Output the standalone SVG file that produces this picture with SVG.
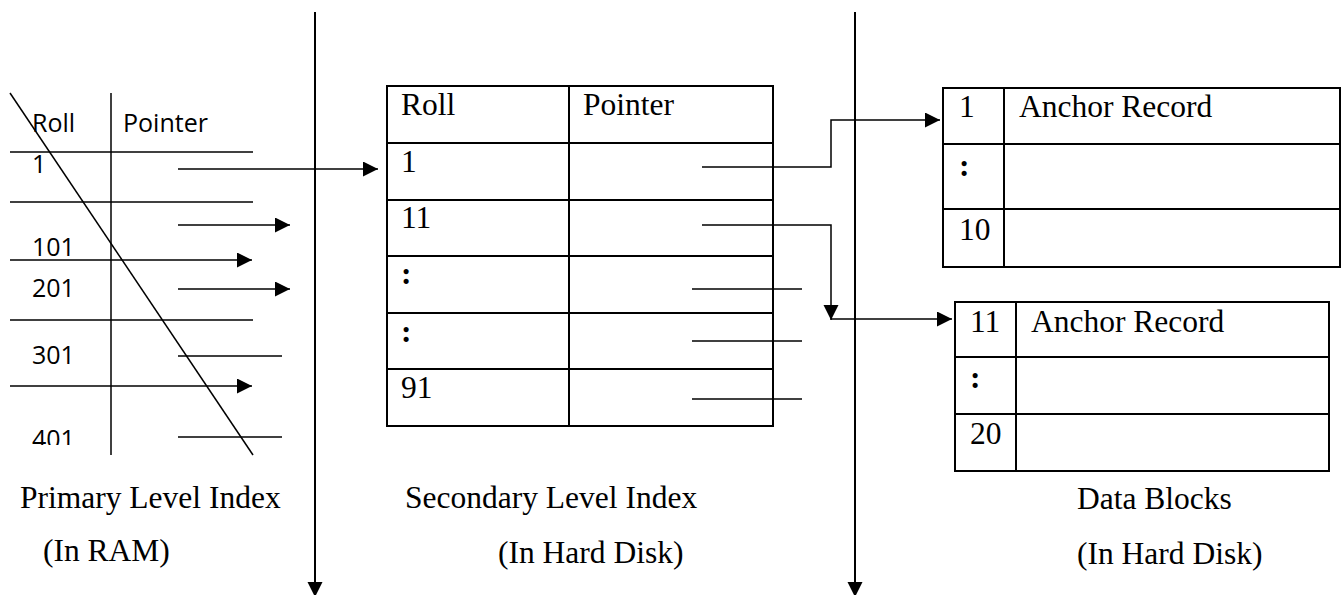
<svg xmlns="http://www.w3.org/2000/svg" width="1342" height="595" viewBox="0 0 1342 595">
<style>
.bg{fill:#fff}
.tb{fill:none;stroke:#000;stroke-width:2}
.ln{fill:none;stroke:#000;stroke-width:1.5}
.thin{fill:none;stroke:#000;stroke-width:1.4}
.ax{fill:none;stroke:#000;stroke-width:2}
.ser{font-family:"Liberation Serif","Times New Roman",serif;font-size:31.5px;fill:#000}
.sans{font-family:"Open Sans","Liberation Sans",sans-serif;font-size:25px;fill:#000}
.arr{marker-end:url(#ah)}
</style>
<defs>
<marker id="ah" markerUnits="userSpaceOnUse" markerWidth="16" markerHeight="16" refX="15" refY="7.5" orient="auto">
<path d="M0,0 L15,7.5 L0,15 z" fill="#000"/>
</marker>
<clipPath id="clip401"><rect x="0" y="0" width="200" height="445"/></clipPath>
</defs>
<rect class="bg" x="0" y="0" width="1342" height="595"/>

<g id="primary-index">
<line class="ln" x1="10" y1="93" x2="253" y2="455"/>
<line class="ln" x1="111" y1="93" x2="111" y2="455"/>
<line class="ln" x1="10" y1="152" x2="253" y2="152"/>
<line class="ln" x1="10" y1="202" x2="253" y2="202"/>
<line class="ln" x1="10" y1="320" x2="253" y2="320"/>
<text class="sans" x="32" y="132">Roll</text>
<text class="sans" x="123" y="132">Pointer</text>
<text class="sans" x="32" y="173">1</text>
<text class="sans" x="32" y="256">101</text>
<text class="sans" x="32" y="297">201</text>
<text class="sans" x="32" y="364">301</text>
<text class="sans" x="32" y="448" clip-path="url(#clip401)">401</text>
</g>

<g id="secondary-index">
<rect class="tb" x="387" y="86" width="386" height="340"/>
<line class="tb" x1="569" y1="86" x2="569" y2="426"/>
<line class="tb" x1="387" y1="143" x2="773" y2="143"/>
<line class="tb" x1="387" y1="200" x2="773" y2="200"/>
<line class="tb" x1="387" y1="256" x2="773" y2="256"/>
<line class="tb" x1="387" y1="313" x2="773" y2="313"/>
<line class="tb" x1="387" y1="369" x2="773" y2="369"/>
<text class="ser" x="401" y="115">Roll</text>
<text class="ser" x="583" y="115">Pointer</text>
<text class="ser" x="401" y="172">1</text>
<text class="ser" x="401" y="228">11</text>
<text class="ser" x="401" y="284" font-weight="bold">:</text>
<text class="ser" x="401" y="342" font-weight="bold">:</text>
<text class="ser" x="401" y="398">91</text>
</g>

<g id="data-block-1">
<rect class="tb" x="943" y="88" width="397" height="179"/>
<line class="tb" x1="1004" y1="88" x2="1004" y2="267"/>
<line class="tb" x1="943" y1="144" x2="1340" y2="144"/>
<line class="tb" x1="943" y1="209" x2="1340" y2="209"/>
<text class="ser" x="959" y="117">1</text>
<text class="ser" x="1019" y="117">Anchor Record</text>
<text class="ser" x="959" y="176" font-weight="bold">:</text>
<text class="ser" x="959" y="240">10</text>
</g>

<g id="data-block-2">
<rect class="tb" x="955" y="302" width="374" height="169"/>
<line class="tb" x1="1016" y1="302" x2="1016" y2="471"/>
<line class="tb" x1="955" y1="357" x2="1329" y2="357"/>
<line class="tb" x1="955" y1="414" x2="1329" y2="414"/>
<text class="ser" x="970" y="332">11</text>
<text class="ser" x="1031" y="332">Anchor Record</text>
<text class="ser" x="970" y="388" font-weight="bold">:</text>
<text class="ser" x="970" y="444">20</text>
</g>

<g id="labels">
<text class="ser" x="20" y="508">Primary Level Index</text>
<text class="ser" x="43" y="561">(In RAM)</text>
<text class="ser" x="405" y="508">Secondary Level Index</text>
<text class="ser" x="498" y="563">(In Hard Disk)</text>
<text class="ser" x="1077" y="509">Data Blocks</text>
<text class="ser" x="1077" y="564">(In Hard Disk)</text>
</g>

<g id="connectors">
<line class="ax arr" x1="315" y1="12" x2="315" y2="597"/>
<line class="ax arr" x1="855" y1="12" x2="855" y2="597"/>
<line class="ln arr" x1="178" y1="169" x2="378" y2="169"/>
<line class="ln arr" x1="178" y1="225" x2="290" y2="225"/>
<line class="ln arr" x1="10" y1="260" x2="252" y2="260"/>
<line class="ln arr" x1="178" y1="289" x2="290" y2="289"/>
<line class="thin" x1="178" y1="356" x2="282" y2="356"/>
<line class="ln arr" x1="10" y1="386" x2="252" y2="386"/>
<line class="thin" x1="178" y1="437" x2="282" y2="437"/>
<polyline class="ln arr" points="702,167 831,167 831,120 940,120"/>
<polyline class="ln arr" points="702,225 831,225 831,320"/>
<line class="ln arr" x1="831" y1="319" x2="952" y2="319"/>
<line class="thin" x1="692" y1="289" x2="802" y2="289"/>
<line class="thin" x1="692" y1="341" x2="802" y2="341"/>
<line class="thin" x1="692" y1="399" x2="802" y2="399"/>
</g>
</svg>
